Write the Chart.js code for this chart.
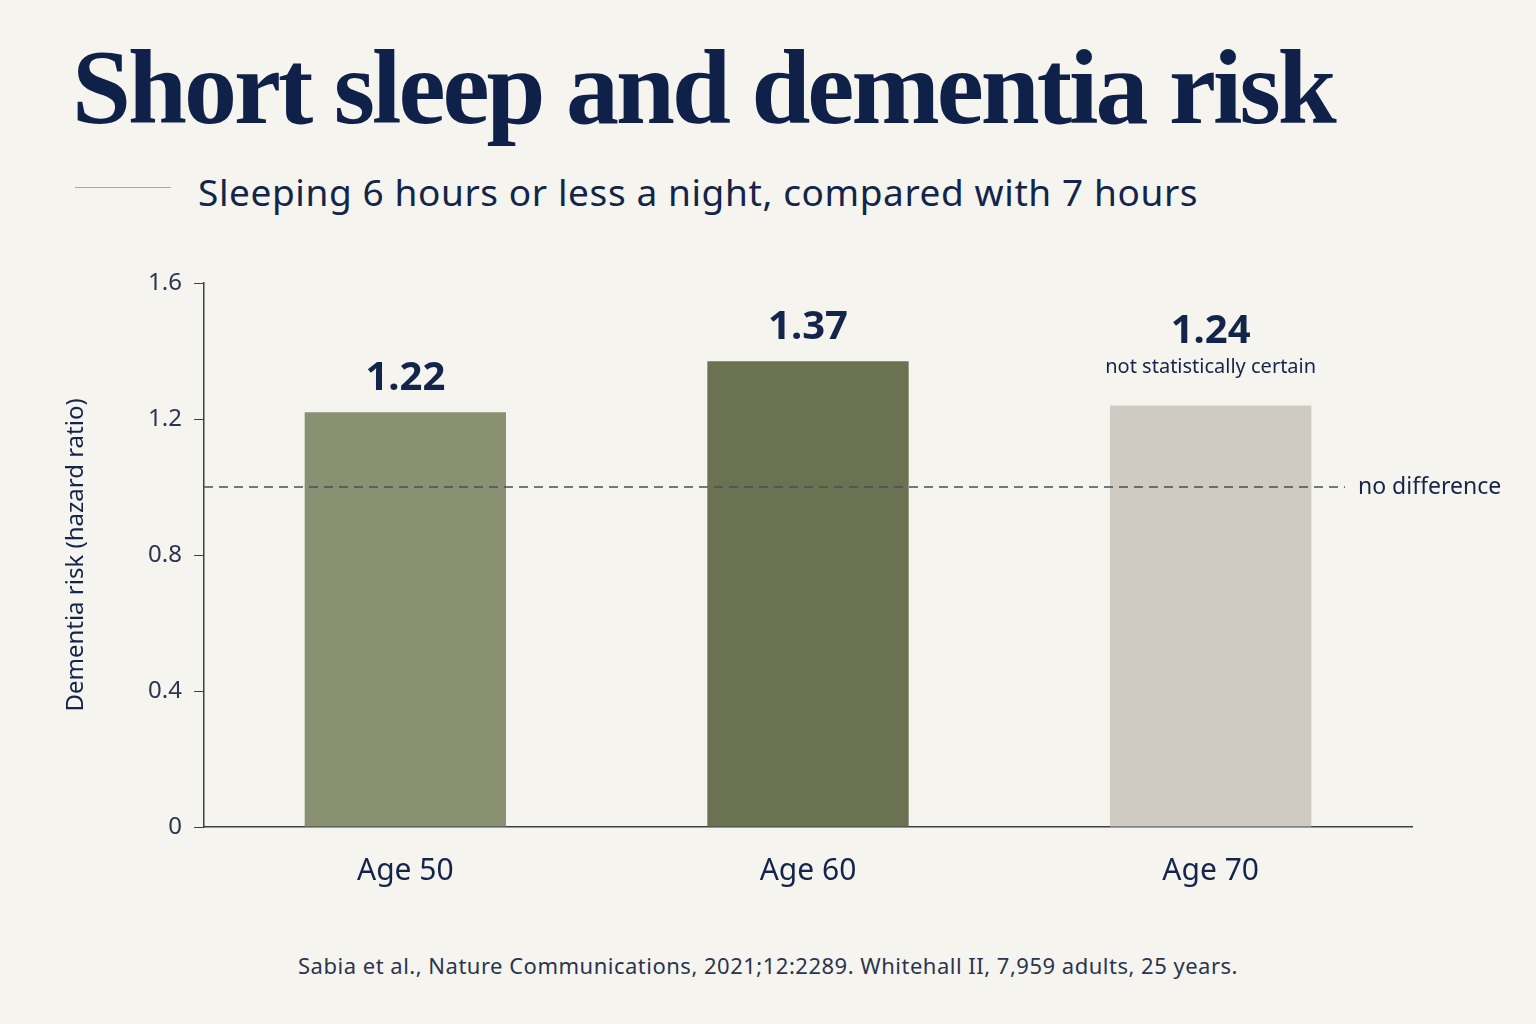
<!DOCTYPE html>
<html>
<head>
<meta charset="utf-8">
<script src="https://cdn.jsdelivr.net/npm/chart.js@4"></script>
<style>
  body { margin: 0; background: #f6f4ef; width: 1536px; height: 1024px; overflow: hidden; position: relative; font-family: "Noto Sans", sans-serif; color: #13254a; }
  #title { position: absolute; left: 72px; top: 30px; font-family: "Liberation Serif", "DejaVu Serif", serif; font-weight: bold; font-size: 106px; letter-spacing: -3px; color: #0f2149; white-space: nowrap; line-height: 1.1; }
  #rule { position: absolute; left: 75px; top: 187px; width: 96px; height: 1px; background: #b8a878; }
  #subtitle { position: absolute; left: 198px; top: 166px; font-size: 37px; letter-spacing: 0.6px; color: #13254a; }
  #source { position: absolute; left: 0; width: 1536px; top: 950px; text-align: center; font-size: 22px; letter-spacing: 0.5px; color: #2a3550; }
  #wrap { position: absolute; left: 0; top: 250px; width: 1536px; height: 650px; }
</style>
</head>
<body>
<div id="title">Short sleep and dementia risk</div>
<div id="rule"></div>
<div id="subtitle">Sleeping 6 hours or less a night, compared with 7 hours</div>
<div id="wrap"><canvas id="chart"></canvas></div>
<div id="source">Sabia et al., Nature Communications, 2021;12:2289. Whitehall II, 7,959 adults, 25 years.</div>
<script>
const categories = ['Age 50', 'Age 60', 'Age 70'];
const hazardRatios = [1.22, 1.37, 1.24];
const barColors = ['#8a9172', '#6a7252', '#cfcbc2'];
const notes = ['', '', 'not statistically certain'];
const yTicks = [0, 0.4, 0.8, 1.2, 1.6];
const referenceValue = 1.0;

const NAVY = '#13254a';

const overlay = {
    id: 'overlay',
    afterDatasetsDraw(chart) {
        const ctx = chart.ctx;
        const y = chart.scales.y;
        const area = chart.chartArea;
        // dashed "no difference" line
        const yRef = y.getPixelForValue(referenceValue);
        ctx.save();
        ctx.strokeStyle = '#4a4f56';
        ctx.lineWidth = 1.3;
        ctx.setLineDash([9, 6]);
        ctx.beginPath();
        ctx.moveTo(area.left, yRef);
        ctx.lineTo(area.right - 67, yRef);
        ctx.stroke();
        ctx.setLineDash([]);
        ctx.fillStyle = NAVY;
        ctx.font = '23px "Noto Sans"';
        ctx.textBaseline = 'middle';
        ctx.textAlign = 'left';
        ctx.fillText('no difference', area.right - 54, yRef);

        // value labels
        const meta = chart.getDatasetMeta(0);
        meta.data.forEach((bar, i) => {
            ctx.textAlign = 'center';
            ctx.textBaseline = 'alphabetic';
            const hasNote = notes[i] !== '';
            ctx.fillStyle = NAVY;
            ctx.font = 'bold 40px "Noto Sans"';
            ctx.fillText(hazardRatios[i].toFixed(2), bar.x, bar.y - (hasNote ? 62 : 22));
            if (hasNote) {
                ctx.font = '20px "Noto Sans"';
                ctx.fillText(notes[i], bar.x, bar.y - 32);
            }
        });
        ctx.restore();
    }
};

new Chart(document.getElementById('chart'), {
    type: 'bar',
    data: {
        labels: categories,
        datasets: [{
            data: hazardRatios,
            backgroundColor: barColors,
            barPercentage: 0.5,
            categoryPercentage: 1.0
        }]
    },
    options: {
        responsive: true,
        maintainAspectRatio: false,
        animation: false,
        layout: { padding: { top: 33, right: 124, left: 0, bottom: 0 } },
        plugins: { legend: { display: false }, tooltip: { enabled: false } },
        scales: {
            x: {
                afterFit(scale) { scale.height = 73; },
                grid: { display: false },
                border: { color: '#3a3f48', width: 1.5 },
                ticks: { color: NAVY, font: { size: 30, family: 'Noto Sans' }, padding: 18 }
            },
            y: {
                min: 0,
                max: 1.6,
                afterFit(scale) { scale.width = 204; },
                afterBuildTicks(scale) { scale.ticks = yTicks.map(v => ({ value: v })); },
                grid: { drawOnChartArea: false, tickLength: 10, color: '#3a3f48' },
                border: { color: '#3a3f48', width: 1.5 },
                ticks: {
                    color: '#2a3550',
                    font: { size: 24, family: 'Noto Sans' },
                    padding: 12,
                    callback: v => String(v)
                },
                title: {
                    display: true,
                    text: 'Dementia risk (hazard ratio)',
                    color: NAVY,
                    font: { size: 24, family: 'Noto Sans' },
                    padding: { top: 62, bottom: 0 }
                }
            }
        }
    },
    plugins: [overlay]
});
</script>
</body>
</html>
